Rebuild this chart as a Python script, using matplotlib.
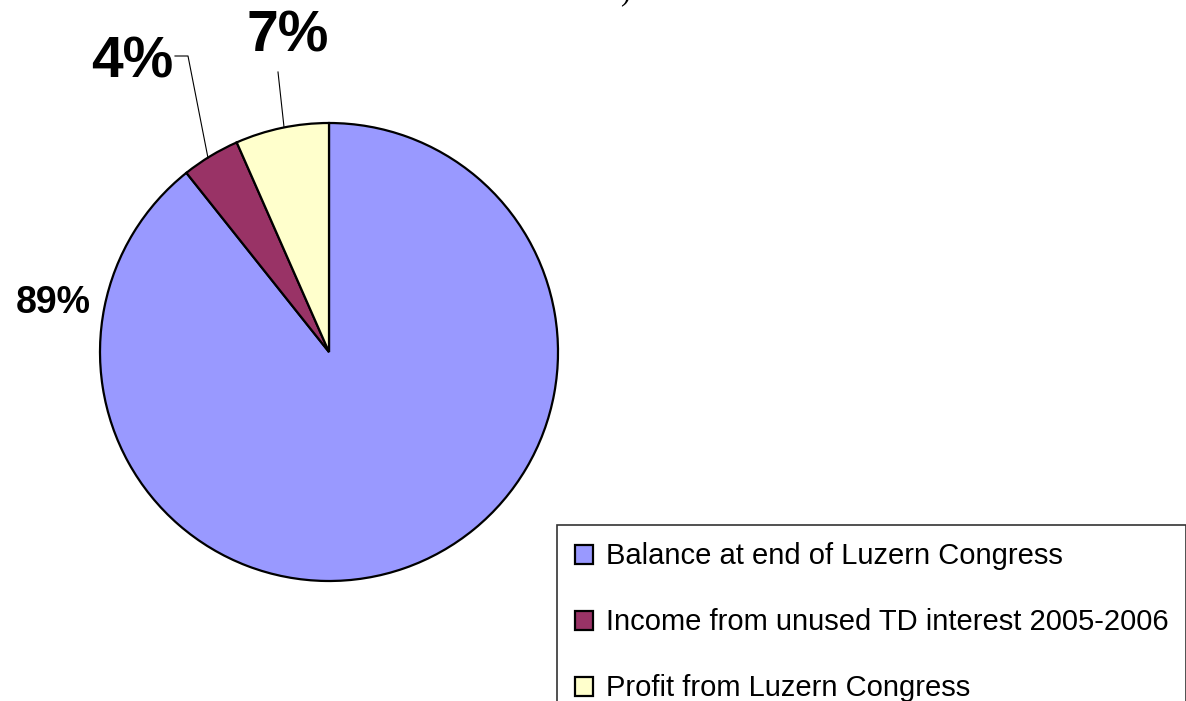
import matplotlib.pyplot as plt

labels = ["Balance at end of Luzern Congress",
          "Income from unused TD interest 2005-2006",
          "Profit from Luzern Congress"]
shares = [89.3, 4.1, 6.6]
colors = ["#9999FF", "#993366", "#FFFFCC"]
pct_text = ["89%", "4%", "7%"]

W, H = 1186, 701
fig = plt.figure(figsize=(W / 100, H / 100), dpi=100)
ax = fig.add_axes([0, 0, 1, 1])
ax.set_xlim(0, W)
ax.set_ylim(0, H)
ax.set_aspect("equal")

wedges, _ = ax.pie(shares, colors=colors, startangle=90, counterclock=False,
                   center=(329, H - 352), radius=229, frame=True,
                   wedgeprops=dict(edgecolor="black", linewidth=1.6))
ax.axis("off")


# pixel positions measured from the top-left corner
def px(x, y):
    return x, H - y


ax.text(*px(53, 303), pct_text[0], fontsize=27, fontweight="bold",
        family="Liberation Sans", ha="center", va="center")
ax.text(*px(132, 63), pct_text[1], fontsize=41, fontweight="bold",
        family="Liberation Sans", ha="center", va="center")
ax.text(*px(288, 36), pct_text[2], fontsize=41, fontweight="bold",
        family="Liberation Sans", ha="center", va="center")

# leader lines
ax.plot([175, 188, 208], [H - 56, H - 56, H - 158], color="black", lw=0.8)
ax.plot([278, 284], [H - 72, H - 127], color="black", lw=0.8)

# clipped remnant of the title above the chart
ax.text(*px(625, 6), ")", fontsize=22, family="Liberation Serif",
        ha="center", va="bottom")

leg = fig.legend(wedges, labels, loc="upper left",
                 bbox_to_anchor=(557 / W, 1 - 525 / H),
                 prop={"family": "Liberation Sans", "size": 21},
                 frameon=True, fancybox=False, edgecolor="black",
                 handlelength=0.62, handleheight=0.62, handletextpad=0.45,
                 labelspacing=1.3, borderpad=0.6, borderaxespad=0)
leg.get_frame().set_linewidth(1.2)

fig.savefig("out.png", dpi=100)
